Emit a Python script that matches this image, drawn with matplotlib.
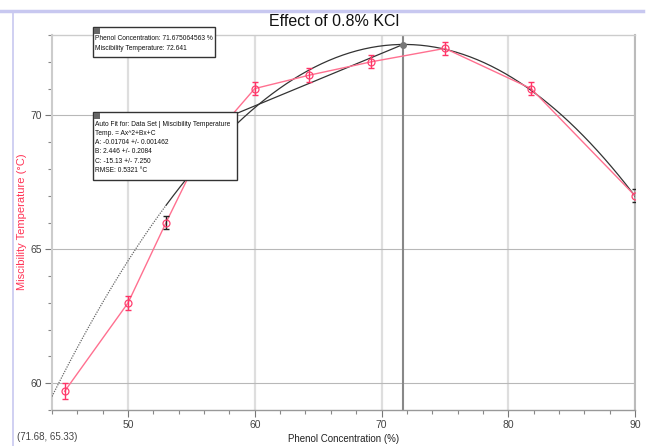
import matplotlib
matplotlib.use("Agg")
import matplotlib.pyplot as plt
import numpy as np
from matplotlib.patches import Rectangle
from matplotlib.lines import Line2D
from matplotlib.ticker import MultipleLocator

# ---- data ----
phenol = [45, 50, 53, 55.8, 60, 64.3, 69.2, 75, 81.8, 90]
temp = [59.7, 63.0, 66.0, 68.7, 71.0, 71.5, 72.0, 72.5, 71.0, 67.0]
err = [0.3, 0.25, 0.25, 0.25, 0.25, 0.25, 0.25, 0.25, 0.25, 0.25]
err_colors = ["#ff3366", "#ff3366", "#222222", "#ff3366", "#ff3366", "#ff3366",
              "#ff3366", "#ff3366", "#ff3366", "#222222"]
fit_A, fit_B, fit_C = -0.01704, 2.446, -15.13
fit_start, fit_end = 53, 90
cursor_x, cursor_y = 71.675064563, 72.641
secant_start = 57
secant_slope = 0.196
xticks = [50, 60, 70, 80, 90]
yticks = [60, 65, 70]

W, H = 651, 446
fig = plt.figure(figsize=(W / 100, H / 100), dpi=100)
plt.rcParams['font.family'] = ["Liberation Sans", "DejaVu Sans"]

def fx(px):
    return px / W

def fy(py):
    return 1 - py / H

ax = fig.add_axes([fx(52), fy(410), fx(635) - fx(52), fy(35) - fy(410)])
ax.set_xlim(44, 90)
ax.set_ylim(59, 73)

# grid
for xv in xticks:
    ax.axvline(xv, color="#dedede", lw=1.6, zorder=0)
for yv in yticks:
    ax.axhline(yv, color="#b8b8b8", lw=0.8, zorder=0)

# fit curve
xs_in = np.linspace(fit_start, fit_end, 200)
xs_out = np.linspace(44, fit_start, 60)
f = lambda x: fit_A * x ** 2 + fit_B * x + fit_C
ax.plot(xs_in, f(xs_in), color="#333333", lw=0.9, zorder=3)
ax.plot(xs_out, f(xs_out), color="#666666", lw=0.9, ls=(0, (1, 1)), zorder=3)

# straight line to cursor
sx = np.array([secant_start, cursor_x])
ax.plot(sx, cursor_y + secant_slope * (sx - cursor_x), color="#333333", lw=0.9, zorder=3)

# data
ax.plot(phenol, temp, color="#ff7090", lw=1.0, zorder=4)
for x, y, e, c in zip(phenol, temp, err, err_colors):
    ax.errorbar([x], [y], yerr=[e], fmt="none", ecolor=c, elinewidth=1.0,
                capsize=2.5, capthick=1.0, zorder=5)
ax.plot(phenol, temp, ls="none", marker="o", ms=5, mfc="none", mec="#ff4070",
        mew=0.9, zorder=6)

# cursor
ax.axvline(cursor_x, color="#888888", lw=1.5, zorder=2)
ax.plot([cursor_x], [cursor_y], marker="o", ms=4, color="#777777", zorder=7)

# axes styling
ax.set_xticks(xticks)
ax.set_yticks(yticks)
ax.xaxis.set_minor_locator(MultipleLocator(2))
ax.yaxis.set_minor_locator(MultipleLocator(1))
ax.tick_params(which="major", length=5, width=0.8, color="#777777",
               labelsize=7.5, labelcolor="#444444", pad=2)
ax.tick_params(which="minor", length=3, width=0.8, color="#888888")
for s, c, lw in [("left", "#cccccc", 1.5), ("bottom", "#999999", 1.0),
                 ("right", "#bbbbbb", 1.5), ("top", "#cccccc", 1.0)]:
    ax.spines[s].set_color(c)
    ax.spines[s].set_linewidth(lw)

ax.set_xlabel("Phenol Concentration (%)", fontsize=7, color="#222222", labelpad=3)
fig.text(fx(22), fy(222), "Miscibility Temperature (°C)", rotation=90,
         fontsize=8, color="#ff3355", ha="center", va="center")
fig.text(fx(334), fy(22), "Effect of 0.8% KCl", fontsize=11.5, ha="center",
         va="center", color="#111111")
fig.text(fx(17), fy(437), "(71.68, 65.33)", fontsize=7, color="#444444",
         ha="left", va="center")

# decorative frame lines
fig.add_artist(Line2D([fx(0), fx(643)], [fy(11), fy(11)], color="#c8c8f0", lw=2.5))
fig.add_artist(Line2D([fx(13), fx(13)], [fy(11), fy(446)], color="#c8c8f0", lw=1.2))

# annotation boxes
def box(x0, y0, x1, y1, lines, lh, fs):
    r = Rectangle((fx(x0), fy(y1)), fx(x1) - fx(x0), fy(y0) - fy(y1),
                  transform=fig.transFigure, facecolor="white",
                  edgecolor="#333333", lw=1.0, zorder=10)
    fig.add_artist(r)
    ic = Rectangle((fx(x0 + 1), fy(y0 + 7)), fx(6), fy(0) - fy(6),
                   transform=fig.transFigure, facecolor="#666666",
                   edgecolor="none", zorder=11)
    fig.add_artist(ic)
    for i, t in enumerate(lines):
        fig.text(fx(x0 + 2), fy(y0 + 12 + i * lh), t, fontsize=fs,
                 color="#111111", ha="left", va="center", zorder=12)

box(93, 27, 215, 57, ["Phenol Concentration: 71.675064563 %",
                      "Miscibility Temperature: 72.641"], 10, 4.8)
box(93, 112, 237, 180, ["Auto Fit for: Data Set | Miscibility Temperature",
                        "Temp. = Ax^2+Bx+C",
                        "A: -0.01704 +/- 0.001462",
                        "B: 2.446 +/- 0.2084",
                        "C: -15.13 +/- 7.250",
                        "RMSE: 0.5321 °C"], 9.3, 4.8)

fig.savefig("out.png", dpi=100)
